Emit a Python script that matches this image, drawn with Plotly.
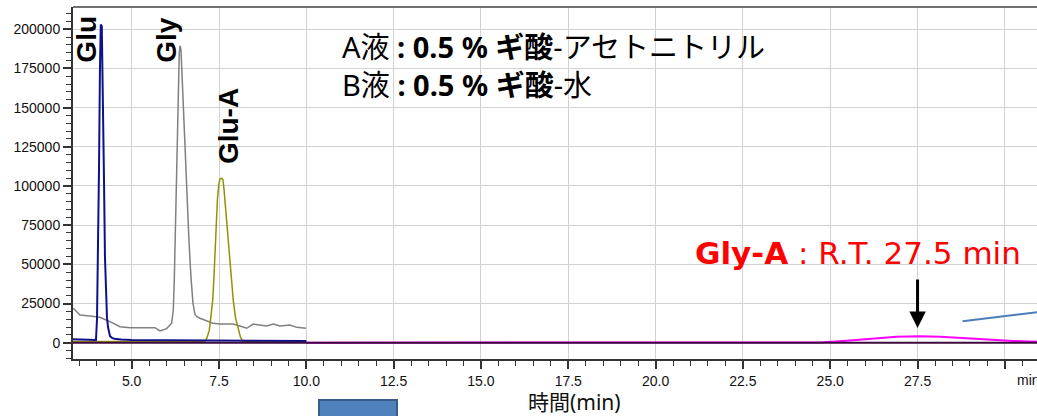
import plotly.graph_objects as go

# ---- chromatogram data: retention time (min) and detector response ----
glu_t = [3.32, 3.60, 3.90, 3.978, 4.007, 4.035, 4.064, 4.092, 4.115, 4.144, 4.178,
         4.207, 4.235, 4.264, 4.293, 4.322, 4.35, 4.38, 4.44, 4.50, 4.70, 5.0,
         6.0, 7.0, 8.0, 9.0, 10.0]
glu_y = [2200, 1900, 1600, 1700, 15000, 50000, 110000, 175000, 203000, 202000, 160000,
         105000, 55000, 28000, 16000, 10000, 6500, 4200, 3000, 2500, 2000, 1700,
         1500, 1400, 1300, 1200, 1100]

gly_t = [3.328, 3.52, 3.806, 4.092, 4.379, 4.665, 4.951, 5.238, 5.667, 5.811, 6.002,
         6.145, 6.191, 6.220, 6.248, 6.277, 6.305, 6.334, 6.363, 6.383, 6.411, 6.440,
         6.477, 6.526, 6.583, 6.640, 6.697, 6.755, 6.812, 6.869, 6.955, 7.328, 7.528,
         7.900, 8.101, 8.292, 8.481, 8.865, 9.054, 9.246, 9.532, 9.724, 9.990]
gly_y = [22000, 17700, 17000, 16200, 13400, 10200, 9600, 9600, 9600, 7500, 9000,
         12400, 20900, 40000, 70000, 100000, 135000, 165000, 185000, 189500, 187000, 172000,
         150000, 120000, 92000, 65000, 42000, 25000, 18000, 16600, 15600, 12400, 11900,
         11900, 10700, 9200, 11900, 10700, 11900, 10700, 11300, 9800, 9200]

glua_t = [3.32, 5.0, 6.5, 7.0, 7.098, 7.155, 7.222, 7.270, 7.319, 7.356, 7.385, 7.422,
          7.456, 7.494, 7.528, 7.571, 7.614, 7.643, 7.680, 7.728, 7.794, 7.851, 7.909,
          7.972, 8.052, 8.115, 8.178, 8.4, 9.0, 10.0]
glua_y = [800, 700, 600, 700, 1000, 3000, 8000, 17000, 27000, 42000, 59000, 78000,
          92000, 101000, 104500, 105000, 104000, 98000, 88000, 72000, 55000, 38000, 27000,
          16000, 8000, 3500, 1000, 600, 500, 500]

glya_t = [10.0, 24.0, 24.70, 25.47, 26.23, 26.90, 27.57, 28.14, 28.90, 29.67, 30.24, 30.92]
glya_y = [0, 0, 200, 1300, 2800, 3800, 4100, 3800, 2800, 1700, 1100, 640]

base_t = [3.32, 30.92]
base_y = [0, 0]

pointer_t = [28.79, 30.95]
pointer_y = [13660, 19480]

# ---- axes ----
x_ticks = [5.0, 7.5, 10.0, 12.5, 15.0, 17.5, 20.0, 22.5, 25.0, 27.5, 30.0]
x_labels = ["5.0", "7.5", "10.0", "12.5", "15.0", "17.5", "20.0", "22.5", "25.0", "27.5", ""]
y_ticks = [0, 25000, 50000, 75000, 100000, 125000, 150000, 175000, 200000]
y_labels = [str(v) for v in y_ticks]

peak_labels = ["Glu", "Gly", "Glu-A"]
peak_label_t = [3.72, 6.0, 7.79]
peak_label_y = [194000, 193000, 138300]

eluent_lines = ["A液 <b>: 0.5 % ギ酸</b>-アセトニトリル", "B液 <b>: 0.5 % ギ酸</b>-水"]

fig = go.Figure()
fig.add_trace(go.Scatter(x=gly_t, y=gly_y, mode="lines", line=dict(color="#808080", width=1.5)))
fig.add_trace(go.Scatter(x=glua_t, y=glua_y, mode="lines", line=dict(color="#929208", width=1.5)))
fig.add_trace(go.Scatter(x=glu_t, y=glu_y, mode="lines", line=dict(color="#10108c", width=2)))
fig.add_trace(go.Scatter(x=glya_t, y=glya_y, mode="lines", line=dict(color="#ff00ff", width=2)))
fig.add_trace(go.Scatter(x=base_t, y=base_y, mode="lines", line=dict(color="#3c0a3c", width=2)))
fig.add_trace(go.Scatter(x=pointer_t, y=pointer_y, mode="lines", line=dict(color="#4a7ebb", width=2)))

tick_font = dict(family="Liberation Sans, Arial, sans-serif", size=14, color="#111111")
fig.update_xaxes(
    range=[3.32, 30.92], tickmode="array", tickvals=x_ticks, ticktext=x_labels,
    ticks="outside", ticklen=8, tickwidth=1.5, tickcolor="#333333",
    minor=dict(dtick=0.5, ticks="outside", ticklen=5, tickwidth=1.2, tickcolor="#333333", showgrid=False),
    showgrid=True, gridcolor="#d2d2d2", gridwidth=1,
    showline=True, linecolor="#333333", linewidth=2, zeroline=False,
    tickfont=tick_font,
)
fig.update_yaxes(
    range=[-10400, 214200], tickmode="array", tickvals=y_ticks, ticktext=y_labels,
    ticks="outside", ticklen=8, tickwidth=1.5, tickcolor="#333333",
    minor=dict(dtick=5000, ticks="outside", ticklen=5, tickwidth=1.2, tickcolor="#333333", showgrid=False),
    showgrid=True, gridcolor="#d2d2d2", gridwidth=1,
    showline=True, linecolor="#333333", linewidth=2, zeroline=False,
    tickfont=tick_font,
)

shapes = [
    # top frame
    dict(type="line", xref="paper", yref="paper", x0=0, x1=1, y0=1, y1=1,
         line=dict(color="#707070", width=2)),
    # white panels behind the text blocks
    dict(type="rect", xref="paper", yref="paper", x0=0.2593, x1=0.7745, y0=0.699, y1=0.963,
         fillcolor="white", line=dict(width=0), layer="between"),
    dict(type="rect", xref="paper", yref="paper", x0=0.635, x1=1.0, y0=0.2244, y1=0.386,
         fillcolor="white", line=dict(width=0), layer="between"),
    # blue button below the axis
    dict(type="rect", xref="paper", yref="paper", x0=0.2552, x1=0.3361, y0=-0.22, y1=-0.1165,
         fillcolor="#4f81bd", line=dict(color="#385d8a", width=2)),
]

annotations = []
for name, t, v in zip(peak_labels, peak_label_t, peak_label_y):
    annotations.append(dict(x=t, y=v, xref="x", yref="y", text="<b>%s</b>" % name,
                            textangle=-90, showarrow=False, xanchor="center", yanchor="middle",
                            font=dict(family="Liberation Sans, Arial, sans-serif", size=28, color="black")))

jp_font = "Noto Sans, Noto Sans CJK JP, sans-serif"
annotations.append(dict(
    x=(340 - 73) / 964, y=(359 - 65) / 352, xref="paper", yref="paper",
    xanchor="left", yanchor="middle", align="left", showarrow=False,
    text="<br>".join(eluent_lines), font=dict(family=jp_font, size=29, color="black")))
annotations.append(dict(
    x=(693 - 73) / 964, y=0.301, xref="paper", yref="paper", xanchor="left", yanchor="middle",
    showarrow=False, text="<b>Gly-A</b> : R.T. 27.5 min",
    font=dict(family="DejaVu Sans, sans-serif", size=31, color="#ff0000")))
# arrow pointing at the Gly-A peak
annotations.append(dict(x=27.5, y=9400, ax=27.5, ay=41300, xref="x", yref="y", axref="x", ayref="y",
                        text="", showarrow=True, arrowhead=2, arrowsize=1.1, arrowwidth=3,
                        arrowcolor="black", standoff=0))
# unit label at the end of the time axis
annotations.append(dict(x=(1015 - 73) / 964, y=-0.0597, xref="paper", yref="paper",
                        xanchor="left", yanchor="middle", showarrow=False, text="min",
                        font=tick_font))
# axis title
annotations.append(dict(x=(574 - 73) / 964, y=(359 - 402) / 352, xref="paper", yref="paper",
                        xanchor="center", yanchor="middle", showarrow=False, text="時間(min)",
                        font=dict(family=jp_font, size=21, color="#111111")))

fig.update_layout(
    width=1037, height=416, margin=dict(l=73, r=0, t=7, b=57),
    paper_bgcolor="white", plot_bgcolor="white", showlegend=False,
    shapes=shapes, annotations=annotations,
)

fig.write_html("out.html")
